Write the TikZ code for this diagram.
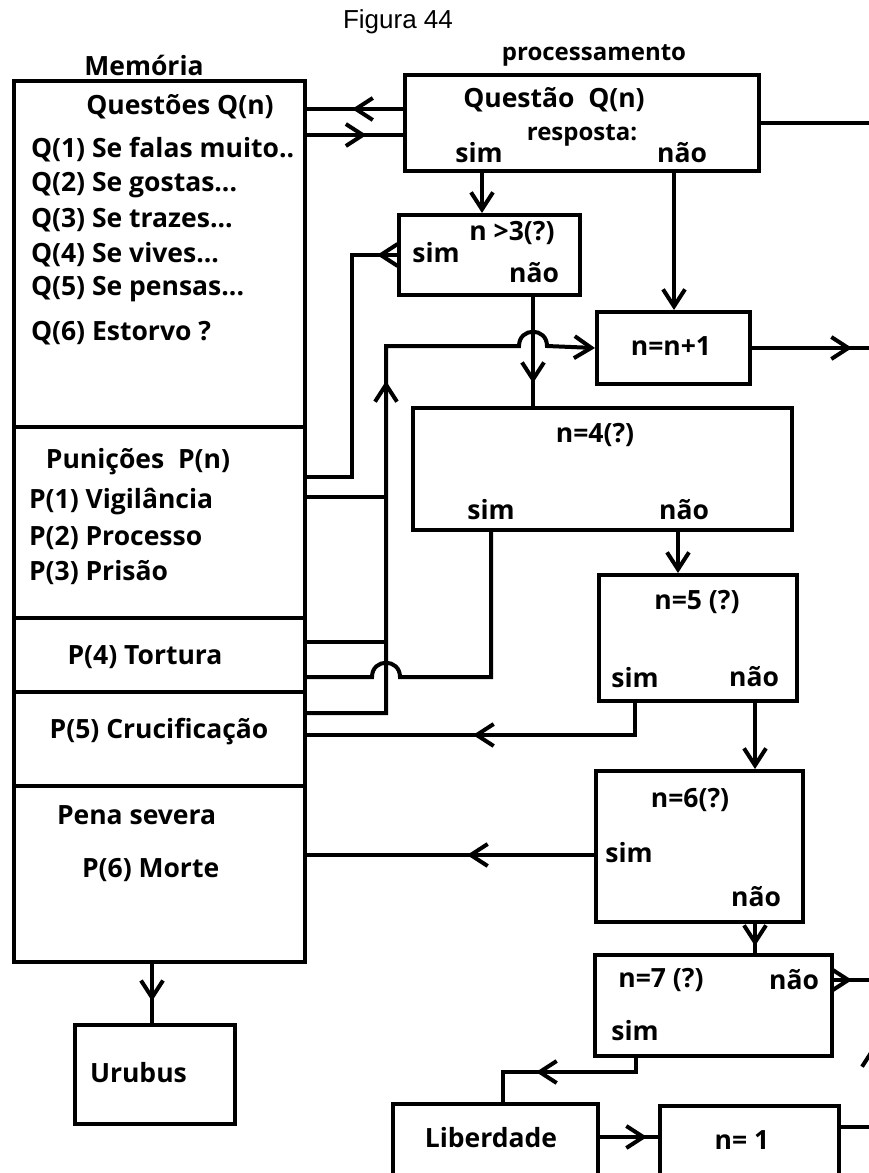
\documentclass[tikz,border=0pt]{standalone}
\usepackage{fontspec}
\setmainfont{Open Sans}
\newfontfamily\titlefont{Liberation Sans}
\usetikzlibrary{arrows.meta,decorations.markings}

\begin{document}
\begin{tikzpicture}[x=1pt, y=-1pt, line width=4pt,
    >={Straight Barb[length=17pt,width=22pt]},
    box/.style={draw, line width=4pt, anchor=north west, inner sep=0pt},
    txt/.style={font=\bfseries\fontsize{26.5}{30}\selectfont, inner sep=0pt},
    small/.style={font=\bfseries\fontsize{24}{28}\selectfont, inner sep=0pt},
    tipat/.style={postaction={decorate, decoration={markings,
        mark=at position #1 with {\arrow{>}}}}}]
  \useasboundingbox (0,0) rectangle (869,1173);
  \clip (0,0) rectangle (869,1173);

  % headings
  \node[font=\titlefont\fontsize{26}{30}\selectfont, inner sep=0pt] (fig) at (398,22) {Figura 44};
  \node[txt] (memt) at (144,65) {Memória};
  \node[small] (proct) at (594,55) {processamento};

  % memory
  \node[box, minimum width=291pt, minimum height=881pt] (mem) at (12,79) {};
  \draw (mem.west |- 0,427) -- (mem.east |- 0,427);
  \draw (mem.west |- 0,618) -- (mem.east |- 0,618);
  \draw (mem.west |- 0,692) -- (mem.east |- 0,692);
  \draw (mem.west |- 0,786) -- (mem.east |- 0,786);
  \node[txt] (qt) at (180,107) {Questões Q(n)};
  \node[txt, anchor=west] (q1) at (29,150) {Q(1) Se falas muito..};
  \node[txt, anchor=west] (q2) at (29,185) {Q(2) Se gostas...};
  \node[txt, anchor=west] (q3) at (29,220) {Q(3) Se trazes...};
  \node[txt, anchor=west] (q4) at (29,255) {Q(4) Se vives...};
  \node[txt, anchor=west] (q5) at (29,289) {Q(5) Se pensas...};
  \node[txt, anchor=west] (q6) at (29,333) {Q(6) Estorvo ?};
  \node[txt] (pt) at (138,462) {Punições\ \ P(n)};
  \foreach \y/\t [count=\i] in {502/Vigilância, 538/Processo, 573/Prisão}
    \node[txt, anchor=west] (p\i) at (27,\y) {P(\i) \t};
  \node[txt] (p4) at (145,657) {P(4) Tortura};
  \node[txt] (p5) at (159,732) {P(5) Crucificação};
  \node[txt, anchor=west] (pena) at (55,815) {Pena severa};
  \node[txt, anchor=west] (p6) at (80,870) {P(6) Morte};

  \node[box, minimum width=160pt, minimum height=99pt] (uru) at (73,1023) {};
  \node[txt, anchor=west] (urut) at (88,1073) {Urubus};
  \draw[tipat=0.63] (152,0 |- mem.south) -- (152,0 |- uru.north);

  % processing
  \node[box, minimum width=354pt, minimum height=96pt] (quest) at (403,73) {};
  \node[txt] (questt) at (554,100) {Questão\ \ Q(n)};
  \node[small] (resp) at (582,135) {resposta:};
  \node[txt] (qsim) at (479,153) {sim};
  \node[txt] (qnao) at (682,153) {não};
  \draw[tipat=0.53] ([yshift=14pt]quest.west) -- ([yshift=14pt]quest.west -| mem.east);
  \draw[tipat=0.62] ([yshift=-12pt]quest.west -| mem.east) -- ([yshift=-12pt]quest.west);

  \node[box, minimum width=181pt, minimum height=80pt] (gt3) at (397,213) {};
  \node[txt] (gt3t) at (512,233) {n >3(?)};
  \node[txt] (gt3s) at (436,253) {sim};
  \node[txt] (gt3n) at (534,273) {não};
  \draw[->] (482,0 |- quest.south) -- (482,0 |- gt3.north);

  \node[box, minimum width=153pt, minimum height=72pt] (inc) at (595,310) {};
  \node[txt] (inct) at (671,346) {n=n+1};
  \draw[->] (674,0 |- quest.south) -- (674,0 |- inc.north);

  \node[box, minimum width=379pt, minimum height=122pt] (eq4) at (411,406) {};
  \node[txt] (eq4t) at (595,435) {n=4(?)};
  \node[txt] (eq4s) at (491,510) {sim};
  \node[txt] (eq4n) at (684,510) {não};

  \node[box, minimum width=198pt, minimum height=126pt] (eq5) at (597,573) {};
  \node[txt] (eq5t) at (697,602) {n=5 (?)};
  \node[txt] (eq5s) at (635,678) {sim};
  \node[txt] (eq5n) at (754,677) {não};

  \node[box, minimum width=207pt, minimum height=151pt] (eq6) at (594,769) {};
  \node[txt] (eq6t) at (690,800) {n=6(?)};
  \node[txt] (eq6s) at (629,853) {sim};
  \node[txt] (eq6n) at (756,897) {não};

  \node[box, minimum width=237pt, minimum height=101pt] (eq7) at (593,953) {};
  \node[txt] (eq7t) at (661,980) {n=7 (?)};
  \node[txt] (eq7n) at (794,980) {não};
  \node[txt] (eq7s) at (635,1031) {sim};

  \node[box, minimum width=205pt, minimum height=95pt] (lib) at (391,1102) {};
  \node[txt] (libt) at (491,1138) {Liberdade};
  \node[box, minimum width=179pt, minimum height=95pt] (one) at (658,1104) {};
  \node[txt] (onet) at (742,1140) {n= 1};

  % return line on the right, outside the frame
  \coordinate (back) at (873,1127);
  \draw[tipat=81pt] (back) -- (back |- quest.east) -- (quest.east);

  % connectors
  \draw[tipat=20pt] (gt3.west) -- (352,0 |- gt3.west) |- (mem.east |- 0,477);
  \draw[tipat=0.79] (533,0 |- gt3.south) -- (533,0 |- eq4.north);
  \draw (mem.east |- 0,497) -- (386,497);
  \draw (mem.east |- 0,642) -- (386,642);
  \draw[->, tipat=411pt] (mem.east |- 0,713) -| (386,346) -- (519,346)
    .. controls (519,327) and (547,327) .. (547,346) -- (inc.west);
  \draw[tipat=100pt] (inc.east) -- (inc.east -| back);
  \draw (491,0 |- eq4.south) |- (400,677)
    .. controls (400,658) and (372,658) .. (372,677) -- (mem.east |- 0,677);
  \draw[->] (678,0 |- eq4.south) -- (678,0 |- eq5.north);
  \draw[tipat=194pt] (635,0 |- eq5.south) |- (mem.east |- 0,735);
  \draw[->] (755,0 |- eq5.south) -- (755,0 |- eq6.north);
  \draw[tipat=127pt] (eq6.west |- 0,855) -- (mem.east |- 0,855);
  \draw[tipat=22pt] (755,0 |- eq6.south) -- (755,0 |- eq7.north);
  \draw[tipat=18pt] (eq7.east |- 0,980) -- (back |- 0,980);
  \draw[tipat=114pt] (636,0 |- eq7.south) |- (503,1072) -- (503,0 |- lib.north);
  \draw[tipat=47pt] (lib.east |- 0,1137) -- (one.west |- 0,1137);
  \draw (one.east |- back) -- (back);
\end{tikzpicture}
\end{document}
